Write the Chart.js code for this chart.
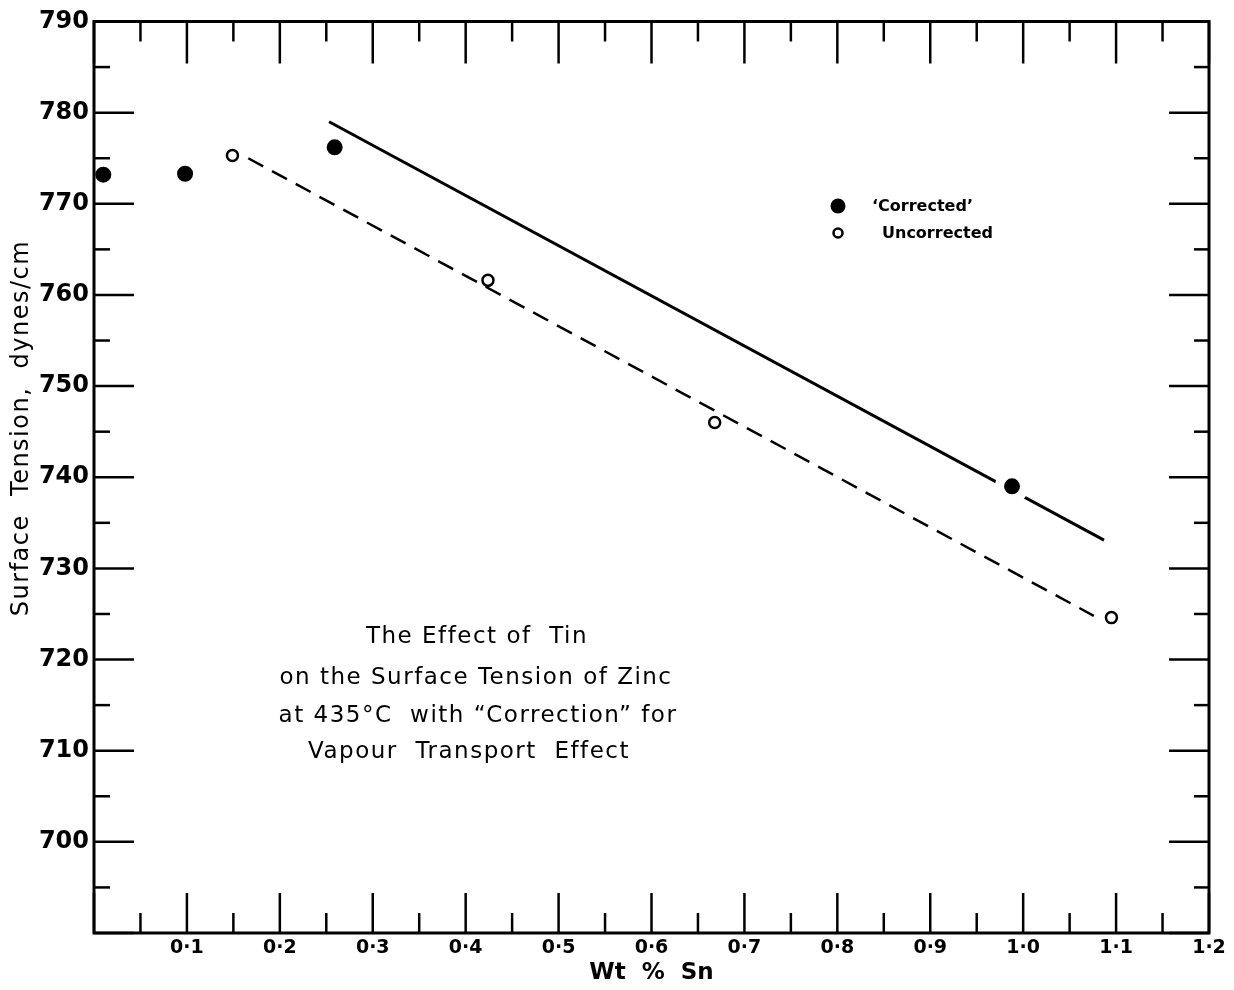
<!DOCTYPE html>
<html>
<head>
<meta charset="utf-8">
<script src="https://cdn.jsdelivr.net/npm/chart.js@4.4.0/dist/chart.umd.min.js"></script>
<style>
  html, body { margin: 0; padding: 0; background: #fff; }
  #wrap { width: 1234px; height: 990px; }
</style>
</head>
<body>
<div id="wrap"><canvas id="tinChart" width="1234" height="990"></canvas></div>
<script>
// values
const correctedX = [0.01, 0.098, 0.259, 0.988];
const correctedY = [773.2, 773.3, 776.2, 739.0];
const uncorrectedX = [0.149, 0.424, 0.668, 1.095];
const uncorrectedY = [775.3, 761.6, 746.0, 724.6];

// fitted lines (end points)
const correctedFitX = [0.253, 1.087];
const correctedFitY = [779.0, 733.1];
const uncorrectedFitX = [0.166, 1.076];
const uncorrectedFitY = [775.0, 724.8];

const xTickLabels = ['0·1', '0·2', '0·3', '0·4', '0·5', '0·6', '0·7', '0·8', '0·9', '1·0', '1·1', '1·2'];
const yTickLabels = ['700', '710', '720', '730', '740', '750', '760', '770', '780', '790'];

const titleLines = [
  'The Effect of  Tin',
  'on the Surface Tension of Zinc',
  'at 435°C  with “Correction” for',
  'Vapour  Transport  Effect'
];

function toPoints(xs, ys) {
  return xs.map((x, i) => ({ x: x, y: ys[i] }));
}

const FONT = '"DejaVu Sans", sans-serif';

// frame, inside ticks on all four sides, legend and captions
const paperPlugin = {
  id: 'paper',
  afterDatasetsDraw(chart) {
    const { ctx, chartArea: a, scales: { x, y } } = chart;
    ctx.save();
    ctx.strokeStyle = '#000';
    ctx.lineCap = 'butt';

    function seg(x1, y1, x2, y2) {
      ctx.beginPath();
      ctx.moveTo(x1, y1);
      ctx.lineTo(x2, y2);
      ctx.stroke();
    }

    ctx.lineWidth = 2.5;
    x.ticks.forEach(t => {
      const px = x.getPixelForValue(t.value);
      const major = Math.round(t.value * 100) % 10 === 0;
      seg(px, a.bottom, px, a.bottom - (major ? 40 : 20));
      seg(px, a.top, px, a.top + (major ? 42 : 20));
    });
    y.ticks.forEach(t => {
      const py = y.getPixelForValue(t.value);
      const major = Math.round(t.value) % 10 === 0;
      seg(a.left, py, a.left + (major ? 40 : 16), py);
      seg(a.right, py, a.right - (major ? 40 : 15), py);
    });

    ctx.lineWidth = 3;
    ctx.strokeRect(a.left, a.top, a.right - a.left, a.bottom - a.top);

    // legend
    ctx.fillStyle = '#000';
    ctx.beginPath();
    ctx.arc(838, 206, 7.5, 0, Math.PI * 2);
    ctx.fill();
    ctx.lineWidth = 2.5;
    ctx.beginPath();
    ctx.arc(838, 233, 4.5, 0, Math.PI * 2);
    ctx.stroke();
    ctx.font = 'bold 16px ' + FONT;
    ctx.textAlign = 'left';
    ctx.textBaseline = 'middle';
    ctx.fillText('‘Corrected’', 872, 207);
    ctx.fillText('Uncorrected', 882, 234);

    // caption
    ctx.font = '23px ' + FONT;
    ctx.letterSpacing = '1.5px';
    ctx.textAlign = 'center';
    const cx = [477, 476, 478, 469];
    const cy = [637, 678, 716, 752];
    titleLines.forEach((line, i) => ctx.fillText(line, cx[i], cy[i]));

    // y axis title
    ctx.save();
    ctx.translate(22, 428);
    ctx.rotate(-Math.PI / 2);
    ctx.font = '24px ' + FONT;
    ctx.letterSpacing = '1.5px';
    ctx.fillText('Surface  Tension,  dynes/cm', 0, 0);
    ctx.restore();

    ctx.restore();
  }
};

const ctx = document.getElementById('tinChart').getContext('2d');
const tinChart = new Chart(ctx, {
  type: 'scatter',
  data: {
    datasets: [
      {
        label: 'Corrected',
        data: toPoints(correctedX, correctedY),
        pointStyle: 'circle',
        pointRadius: 12.5,
        pointBackgroundColor: '#000',
        pointBorderColor: '#fff',
        pointBorderWidth: 9,
        order: 1
      },
      {
        label: 'Uncorrected',
        data: toPoints(uncorrectedX, uncorrectedY),
        pointStyle: 'circle',
        pointRadius: 5.5,
        pointBackgroundColor: '#fff',
        pointBorderColor: '#000',
        pointBorderWidth: 2.5,
        order: 2
      },
      {
        label: 'Corrected fit',
        data: toPoints(correctedFitX, correctedFitY),
        showLine: true,
        borderColor: '#000',
        borderWidth: 3,
        pointRadius: 0,
        order: 3
      },
      {
        label: 'Uncorrected fit',
        data: toPoints(uncorrectedFitX, uncorrectedFitY),
        showLine: true,
        borderColor: '#000',
        borderWidth: 2.5,
        borderDash: [17, 10],
        pointRadius: 0,
        order: 4
      }
    ]
  },
  options: {
    responsive: false,
    animation: false,
    layout: { padding: { top: 18, right: 25, left: 0, bottom: 0 } },
    plugins: {
      legend: { display: false },
      tooltip: { enabled: false }
    },
    scales: {
      x: {
        type: 'linear',
        min: 0,
        max: 1.2,
        afterFit: s => { s.height = 57; },
        ticks: {
          stepSize: 0.05,
          autoSkip: false,
          maxRotation: 0,
          padding: 4,
          color: '#000',
          font: { family: FONT, size: 19, weight: 'bold' },
          callback: v => {
            const k = Math.round(v * 100);
            if (k % 10 !== 0 || k === 0) return '';
            return xTickLabels[k / 10 - 1];
          }
        },
        grid: { display: false, drawTicks: false },
        border: { display: false },
        title: {
          display: true,
          text: 'Wt  %  Sn',
          color: '#000',
          font: { family: FONT, size: 23, weight: 'bold' },
          padding: { top: 0, bottom: 3 }
        }
      },
      y: {
        type: 'linear',
        min: 690,
        max: 790,
        afterFit: s => { s.width = 94; },
        ticks: {
          stepSize: 5,
          autoSkip: false,
          padding: 5,
          color: '#000',
          font: { family: FONT, size: 24, weight: 'bold' },
          callback: v => {
            const k = Math.round(v);
            if (k % 10 !== 0 || k === 690) return '';
            return yTickLabels[(k - 700) / 10];
          }
        },
        grid: { display: false, drawTicks: false },
        border: { display: false }
      }
    }
  },
  plugins: [paperPlugin]
});
</script>
</body>
</html>
